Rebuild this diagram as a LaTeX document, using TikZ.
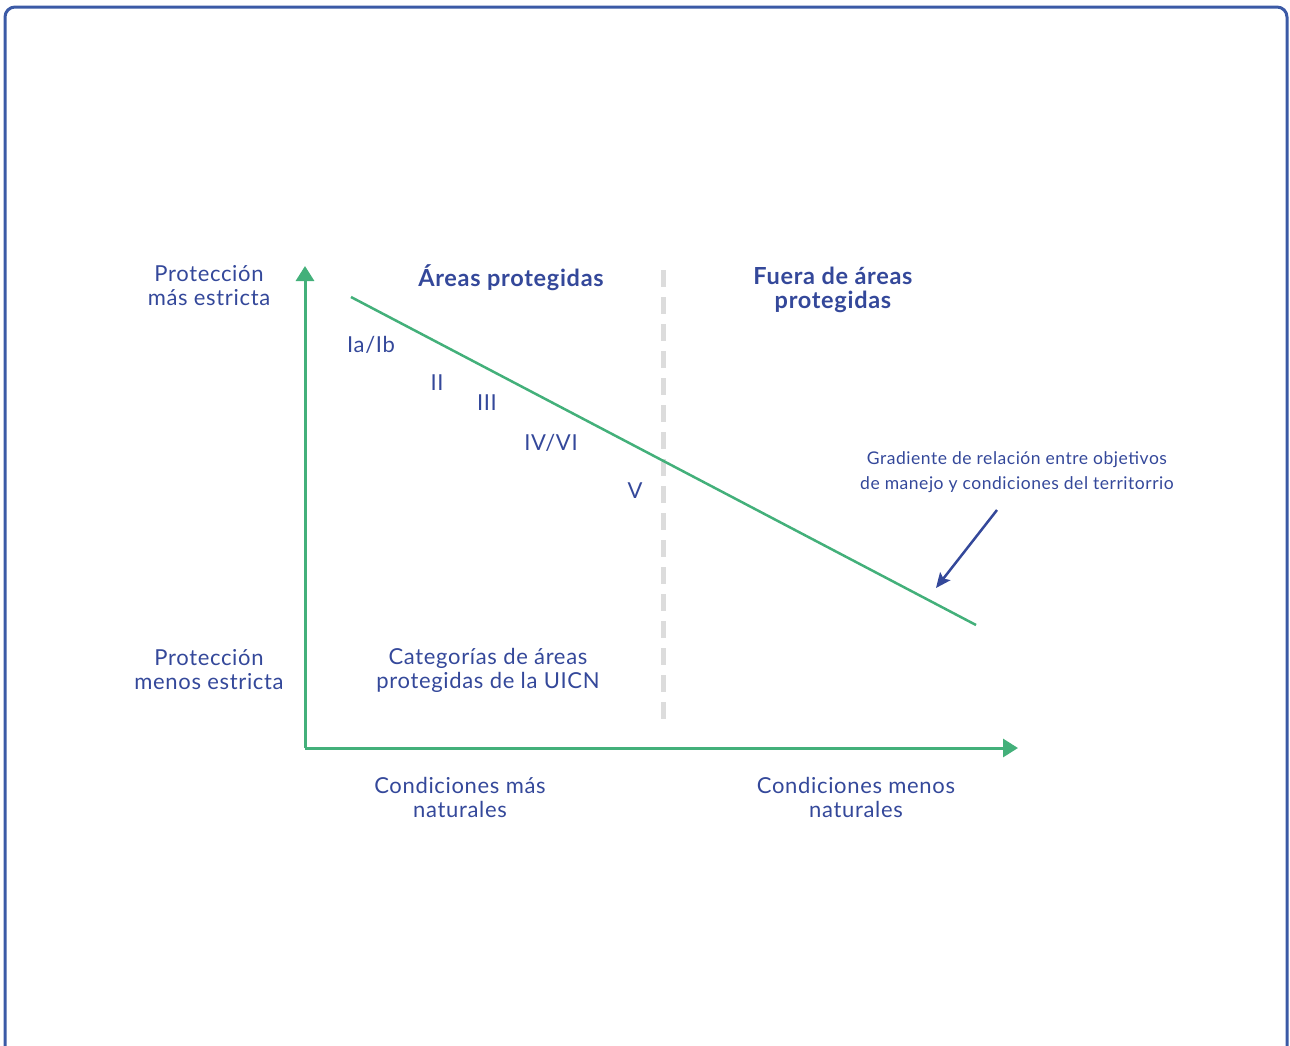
\documentclass[tikz,border=0pt]{standalone}
\usepackage{fontspec}
\setmainfont{Lato}[LetterSpace=3]
\usetikzlibrary{arrows.meta}
\definecolor{uicnblue}{HTML}{34489A}
\definecolor{framblue}{HTML}{3B5AA6}
\definecolor{uicngreen}{HTML}{43B07A}
\definecolor{divgray}{HTML}{DCDCDC}
\tikzset{
	lbl/.style = {align=center, inner sep=0pt, text=uicnblue, font=\fontsize{22}{24}\selectfont},
	ttl/.style = {lbl, font=\fontsize{23.5}{24}\selectfont\bfseries},
	cat/.style = {lbl, font=\fontsize{22}{24}\selectfont},
	note/.style = {lbl, font=\fontsize{17.5}{25}\selectfont},
	axis/.style = {draw=uicngreen, line width=3pt, -{Triangle[length=15pt,width=18pt]}},
	gradline/.style = {draw=uicngreen, line width=2.5pt},
	pointer/.style = {draw=uicnblue, line width=2.5pt, -{Stealth[length=15pt,width=13pt,inset=3pt]}},
	divider/.style = {draw=divgray, line width=5pt, dash pattern=on 17pt off 10pt}
}
\begin{document}
\begin{tikzpicture}[x=1pt, y=-1pt]
		\useasboundingbox (0,0) rectangle (1290,1045);
		% outer frame, open at the bottom
		\draw[framblue, line width=3pt, rounded corners=10pt] (5,1046) -- (5,7) -- (1287,7) -- (1287,1046);

		% axes
		\coordinate (origin) at (305,748);
		\coordinate (ytip) at (305,266);
		\coordinate (xtip) at (1018,748);
		\draw[axis] (origin) -- (ytip);
		\draw[axis] (origin) -- (xtip);

		% split between inside and outside protected areas
		\coordinate (divtop) at (663,270);
		\coordinate (divbot) at (663,724);
		\draw[divider] (divtop) -- (divbot);

		% gradient line
		\coordinate (gstart) at (351,297);
		\coordinate (gend) at (976,625);
		\draw[gradline] (gstart) -- (gend);

		% y axis labels
		\node [lbl] (strict) at (209,286) {Protección\\más estricta};
		\node [lbl] (lax) at (209,670) {Protección\\menos estricta};

		% headers
		\node [ttl] (inside) at (511,278) {Áreas protegidas};
		\node [ttl] (outside) at (833,290) {Fuera de áreas\\protegidas};

		% categories
		\node [cat] (cat1) at (371,345) {Ia/Ib};
		\node [cat] (cat2) at (437,383) {II};
		\node [cat] (cat3) at (487,403) {III};
		\node [cat] (cat4) at (551,443) {IV/VI};
		\node [cat] (cat5) at (635,491) {V};
		\node [lbl] (uicn) at (488,670) {Categorías de áreas\\protegidas de la UICN};

		% x axis labels
		\node [lbl] (natural) at (460,797) {Condiciones más\\naturales};
		\node [lbl] (lessnat) at (856,797) {Condiciones menos\\naturales};

		% gradient note and its pointer
		\node [note] (gradnote) at (1017,472) {Gradiente de relación entre objetivos\\de manejo y condiciones del territorrio};
		\coordinate (ptrstart) at (997,510);
		\coordinate (ptrend) at (936,588);
		\draw[pointer] (ptrstart) -- (ptrend);
\end{tikzpicture}
\end{document}
